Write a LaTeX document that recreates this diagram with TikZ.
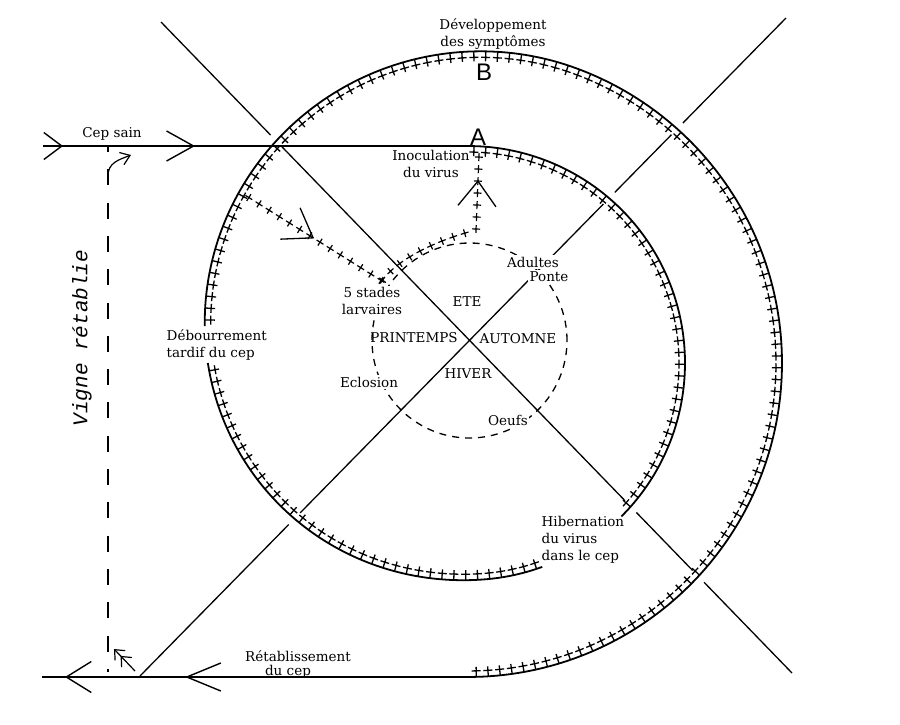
\documentclass[tikz,border=0pt]{standalone}
\usepackage{fontspec}
\setmainfont{DejaVu Serif}
\newfontfamily\letterfont{Liberation Sans}
\newfontfamily\vignefont{Liberation Mono}
\usetikzlibrary{arrows.meta,decorations.markings}

\begin{document}
\begin{tikzpicture}[
    x=1pt, y=-1pt,
    declare function={su(\t)=min(max((\t-175)/205,0),1); sr(\t)=217+97*su(\t)*su(\t)*(3-2*su(\t));},
    axis/.style={line width=1.3pt},
    spiral/.style={line width=1.8pt, preaction={draw=white, line width=16pt},
        postaction={decorate}, decoration={markings,
            mark=between positions 6pt and -2pt step 12pt with {
                \draw[line width=1.3pt] (0pt,0pt) -- (0pt,-10pt) (-4.5pt,-6pt) -- (4.5pt,-6pt);}}},
    larva/.style={postaction={decorate}, decoration={markings,
            mark=between positions 1pt and -1pt step 12pt with {
                \draw[line width=1.2pt] (-4pt,0pt) -- (4pt,0pt) (0pt,-4pt) -- (0pt,4pt);}}},
    flow/.style={line width=1.4pt, postaction={decorate}},
    txt/.style={font=\fontsize{13.5}{17}\selectfont, inner sep=1.5pt, align=center},
    cut/.style={txt, fill=white},
    bigletter/.style={font=\letterfont\fontsize{24}{24}\selectfont, inner sep=0pt, anchor=base}
]
    \useasboundingbox (0,0) rectangle (900,724);

    \coordinate (NW) at (161,22);
    \coordinate (SE) at (792,673);
    \coordinate (SW) at (140,676);
    \coordinate (NE) at (786,18);
    \coordinate (C) at (469.5,340.5);

    \draw[axis] (NW) -- (SE);
    \draw[axis] (SW) -- (NE);

    \draw[line width=1.3pt, dash pattern=on 7pt off 6pt] (C) circle[radius=97.5pt];

    \draw[spiral] plot[domain=0:135, samples=50, smooth] ({468+sr(\x)*sin(\x)},{363-sr(\x)*cos(\x)});
    \draw[spiral] plot[domain=160:270, samples=40, smooth] ({468+sr(\x)*sin(\x)},{363-sr(\x)*cos(\x)});
    \draw[spiral] plot[domain=278:540, samples=100, smooth] ({468+sr(\x)*sin(\x)},{363-sr(\x)*cos(\x)});

    \node[txt] (cepsain) at (112,134) {Cep sain};
    \node[txt] (devel) at (493,34) {Développement\\des symptômes};
    \node[bigletter] (lblB) at (484,80) {B};
    \node[bigletter] (lblA) at (478,145) {A};
    \node[txt] (inoc) at (431,164) {Inoculation\\du virus};
    \node[cut] (larv) at (372,301) {5 stades\\larvaires};
    \node[txt] (ete) at (467,302) {ETE};
    \node[txt] (print) at (414,338) {PRINTEMPS};
    \node[txt] (autom) at (518,339) {AUTOMNE};
    \node[txt] (hiver) at (468,374) {HIVER};
    \node[cut] (adult) at (533,262) {Adultes};
    \node[cut] (ponte) at (549,277) {Ponte};
    \node[cut] (eclos) at (369,382) {Eclosion};
    \node[cut] (oeufs) at (508,420) {Oeufs};
    \node[txt, anchor=west, align=left] (debour) at (165,345) {Débourrement\\tardif du cep};
    \node[txt, anchor=west, align=left] (hibern) at (540,540) {Hibernation\\du virus\\dans le cep};
    \node[txt] (retab) at (298,656) {Rétablissement};
    \node[txt, anchor=base] (ducep) at (288,675) {du cep};
    \node[rotate=90, font=\vignefont\itshape\fontsize{21}{21}\selectfont] (vigne) at (82,338) {Vigne rétablie};

    \coordinate (A) at (468,146);
    \coordinate (S) at (468,677);
    \coordinate (cepin) at (43,146);
    \coordinate (cepout) at (42,677);

    \draw[flow, decoration={markings,
        mark=at position 20pt with {\arrow{Straight Barb[length=18pt,width=27pt]}},
        mark=at position 152pt with {\arrow{Straight Barb[length=27pt,width=30pt]}}}] (cepin) -- (A);
    \draw[flow, decoration={markings,
        mark=at position 283pt with {\arrow{Straight Barb[length=34pt,width=28pt]}},
        mark=at position 403pt with {\arrow{Straight Barb[length=25pt,width=31pt]}}}] (S) -- (cepout);

    \coordinate (L0) at (248,197);
    \coordinate (L1) at (382,281);
    \coordinate (L2) at (476,230);
    \coordinate (L3) at (479,156);

    \path[larva, decoration={mark=at position 78pt with {\arrow[line width=1.3pt]{Straight Barb[length=27pt,width=37pt]}}}] (L0) -- (L1);
    \path[larva] (L1) .. controls (395,262) and (430,242) .. (L2);
    \path[larva, decoration={mark=at position 50pt with {\arrow[line width=1.3pt]{Straight Barb[length=25pt,width=38pt]}}}] (L2) -- (L3);

    \coordinate (V1) at (108,147);
    \coordinate (V2) at (108,672);
    \coordinate (Vt) at (108,176);
    \coordinate (Vh) at (131,155);
    \coordinate (Bt) at (135,671);
    \coordinate (Bh) at (114,649);

    \draw[line width=1.5pt, dash pattern=on 16pt off 17.3pt, dash phase=11pt] (V1) -- (V2);
    \draw[line width=1.2pt, -{Straight Barb[length=9pt,width=13pt]}] (Vt) .. controls (108,163) and (118,160) .. (Vh);
    \draw[line width=1.2pt, -{Straight Barb[length=8pt,width=14pt] Straight Barb[length=8pt,width=14pt]}] (Bt) -- (Bh);

\end{tikzpicture}
\end{document}
